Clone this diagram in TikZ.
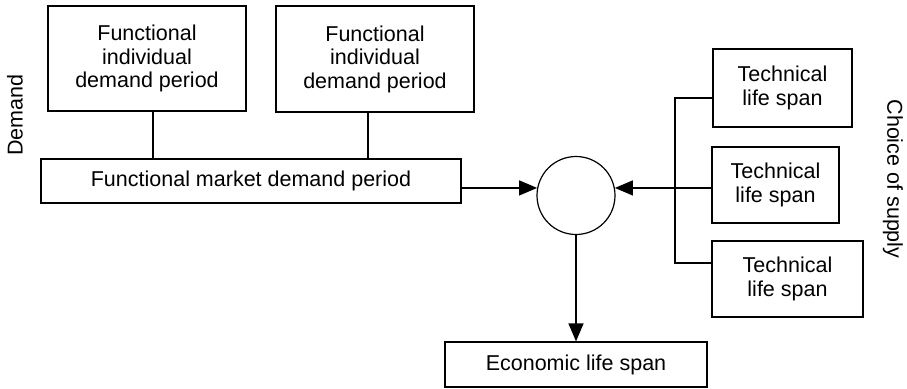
\documentclass[tikz,border=0pt]{standalone}
\usepackage{fontspec}
\setmainfont{Liberation Sans}
\usetikzlibrary{arrows.meta}
\begin{document}
\begin{tikzpicture}[x=1pt,y=-1pt,
  every node/.style={font=\fontsize{21.5}{23.5}\selectfont, inner sep=0pt},
  box/.style={draw, line width=1.2pt, align=center},
  hubstyle/.style={draw, circle, line width=1.2pt, minimum size=78pt},
  wire/.style={line width=1.2pt},
  feed/.style={wire, -{Triangle[length=18pt,width=15pt]}}]
\useasboundingbox (0,0) rectangle (907,388);

% demand side
\node[box, minimum width=198pt, minimum height=105pt] (indA) at (147,58.5) {Functional\\individual\\demand period};
\node[box, minimum width=198pt, minimum height=106pt] (indB) at (375,59) {Functional\\individual\\demand period};
\node[box, minimum width=420pt, minimum height=44pt] (market) at (251,181) {Functional market demand period};

% junction
\node[hubstyle] (hub) at (576,195.5) {};

% supply side
\node[box, minimum width=139pt, minimum height=78pt] (techA) at (782.5,88) {Technical\\life span};
\node[box, minimum width=127pt, minimum height=76pt] (techB) at (775.5,185) {Technical\\life span};
\node[box, minimum width=151pt, minimum height=76pt] (techC) at (787.5,279) {Technical\\life span};

% result
\node[box, minimum width=262pt, minimum height=45pt] (econ) at (576,364.5) {Economic life span};

% side labels
\node[rotate=90] (demandlabel) at (15,115) {Demand};
\node[rotate=-90] (supplylabel) at (893,179) {Choice of supply};

% connectors
\coordinate (jA) at (153,0);
\coordinate (jB) at (368,0);
\coordinate (spine) at (675,0);
\coordinate (rowA) at (0,98);
\coordinate (rowC) at (0,263);

\draw[wire] (indA.south -| jA) -- (market.north -| jA);
\draw[wire] (indB.south -| jB) -- (market.north -| jB);
\draw[feed] (market.east |- hub.169) -- (hub.169);

\draw[wire] (techA.west |- rowA) -| (spine |- rowC) -- (techC.west |- rowC);
\draw[feed] (techB.west |- hub.11) -- (hub.11);

\draw[feed] (hub.south) -- (econ.north);
\end{tikzpicture}
\end{document}
